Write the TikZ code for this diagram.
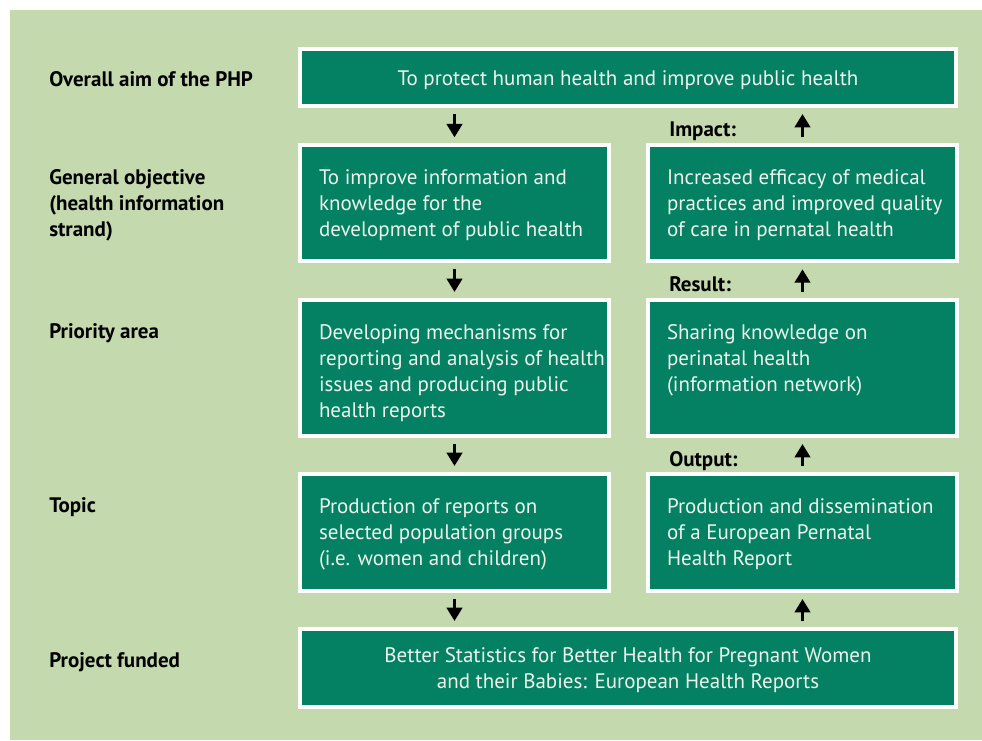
\documentclass[tikz,border=0pt]{standalone}
\usepackage{fontspec}
\setmainfont{PT Sans}
\usetikzlibrary{arrows.meta}
\definecolor{bgg}{RGB}{196,217,173}
\definecolor{boxg}{RGB}{3,129,98}
\definecolor{txtw}{RGB}{238,243,238}
\newcommand\boxtxt[2]{\begin{minipage}[c][#1][t]{231.75pt}\raggedright\leftskip=14.25pt\vspace*{15.75pt}\strut #2\end{minipage}}
\newcommand\ctrtxt[3]{\begin{minipage}[c][#1][t]{470pt}\centering\vspace*{#2}\strut #3\end{minipage}}
\begin{document}
\begin{tikzpicture}[x=0.75pt,y=-0.75pt,
  box/.style={draw=white, line width=3pt, fill=boxg, inner sep=0pt, text=txtw,
    font=\fontsize{15.75}{19.5}\selectfont},
  lbl/.style={anchor=base west, inner sep=0pt, font=\bfseries\fontsize{15.75}{19.5}\selectfont},
  arr/.style={line width=2.25pt, -{Triangle[width=11.5pt,length=10pt]},
    shorten <=4.5pt, shorten >=4.5pt}]
\fill[white] (0,0) rectangle (982,740);
\fill[bgg] (10,10) rectangle (982,740);
\useasboundingbox (0,0) rectangle (982,740);

% boxes
\node[box, minimum width=492pt, minimum height=42.75pt] (top) at (628,77.5)
  {\ctrtxt{42.75pt}{13.35pt}{To protect human health and improve public health}};
\node[box, minimum width=231.75pt, minimum height=87pt] (l2) at (454.5,203.3)
  {\boxtxt{87pt}{To improve information and\\knowledge for the\\development of public health}};
\node[box, minimum width=231.75pt, minimum height=87pt] (r2) at (802.5,203.3)
  {\boxtxt{87pt}{Increased efficacy of medical\\practices and improved quality\\of care in pernatal health}};
\node[box, minimum width=231.75pt, minimum height=102pt] (l3) at (454.5,368)
  {\boxtxt{102pt}{Developing mechanisms for\\reporting and analysis of health\\issues and producing public\\health reports}};
\node[box, minimum width=231.75pt, minimum height=102pt] (r3) at (802.5,368)
  {\boxtxt{102pt}{Sharing knowledge on\\perinatal health\\(information network)}};
\node[box, minimum width=231.75pt, minimum height=87.75pt] (l4) at (454.5,532.5)
  {\boxtxt{87.75pt}{Production of reports on\\selected population groups\\(i.e. women and children)}};
\node[box, minimum width=231.75pt, minimum height=87.75pt] (r4) at (802.5,532.5)
  {\boxtxt{87.75pt}{Production and dissemination\\of a European Pernatal\\Health Report}};
\node[box, minimum width=492pt, minimum height=58.5pt] (bot) at (628,668)
  {\ctrtxt{58.5pt}{11.5pt}{Better Statistics for Better Health for Pregnant Women\\and their Babies: European Health Reports}};

% row labels
\node[lbl] (a1) at (49,86) {Overall aim of the PHP};
\node[lbl] (a2) at (49,184) {\parbox[t]{200pt}{\raggedright General objective\\(health information\\strand)}};
\node[lbl] (a3) at (49,338) {Priority area};
\node[lbl] (a4) at (49,512) {Topic};
\node[lbl] (a5) at (49,667) {Project funded};

% chain labels
\node[lbl] (imp) at (669,136) {Impact:};
\node[lbl] (res) at (669,291.5) {Result:};
\node[lbl] (out) at (669,466) {Output:};

% arrows
\draw[arr] (top.south -| l2.north) -- (l2.north);
\draw[arr] (l2) -- (l3);
\draw[arr] (l3) -- (l4);
\draw[arr] (l4.south) -- (l4.south |- bot.north);
\draw[arr] (bot.north -| r4.south) -- (r4.south);
\draw[arr] (r4) -- (r3);
\draw[arr] (r3) -- (r2);
\draw[arr] (r2.north) -- (r2.north |- top.south);
\end{tikzpicture}
\end{document}
